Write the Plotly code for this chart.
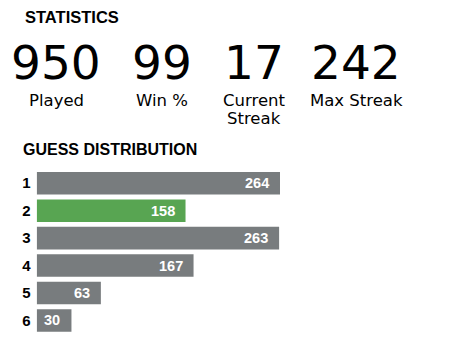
import plotly.graph_objects as go

# ---- data ----
stat_values = ["950", "99", "17", "242"]
stat_labels = [["Played"], ["Win %"], ["Current", "Streak"], ["Max Streak"]]
guesses = ["1", "2", "3", "4", "5", "6"]
counts = [264, 158, 263, 167, 63, 30]
highlight_guess = "2"

# ---- style ----
W, H = 454, 359
OFF = 8  # page body margin of the browser
GRAY = "#787c7e"
GREEN = "#58a552"
PAD = 9  # bar end padding (data units), like the CSS padding of the original

def px(x):
    return (x - OFF) / W

def py(y):
    return 1 - (y - OFF) / H

colors = [GREEN if g == highlight_guess else GRAY for g in guesses]

fig = go.Figure()
fig.add_trace(go.Bar(
    y=guesses,
    x=[c + PAD for c in counts],
    base=-PAD,
    orientation="h",
    marker=dict(color=colors, line=dict(width=0)),
    hoverinfo="skip",
))

annotations = []
# value labels inside bars
for i, c in enumerate(counts):
    annotations.append(dict(
        x=c, y=i, xref="x", yref="y", text=str(c), showarrow=False,
        xanchor="right", yanchor="middle", xshift=-9,
        font=dict(family="Liberation Sans", size=14.5, color="white", weight="bold"),
    ))

# titles
annotations.append(dict(
    x=px(23), y=py(17), xref="paper", yref="paper", text="STATISTICS",
    showarrow=False, xanchor="left", yanchor="middle",
    font=dict(family="Liberation Sans", size=16.5, color="black", weight="bold"),
))
annotations.append(dict(
    x=px(21), y=py(149), xref="paper", yref="paper", text="GUESS DISTRIBUTION",
    showarrow=False, xanchor="left", yanchor="middle",
    font=dict(family="Liberation Sans", size=16, color="black", weight="bold"),
))

# big stats
centers = [56, 162, 254, 356]
for cx, val, lab in zip(centers, stat_values, stat_labels):
    annotations.append(dict(
        x=px(cx), y=py(62.5), xref="paper", yref="paper", text=val,
        showarrow=False, xanchor="center", yanchor="middle",
        font=dict(family="DejaVu Sans", size=47, color="black"),
    ))
    for i, line in enumerate(lab):
        annotations.append(dict(
            x=px(cx), y=py(100 + 18.5 * i), xref="paper", yref="paper", text=line,
            showarrow=False, xanchor="center", yanchor="middle",
            font=dict(family="DejaVu Sans", size=16.5, color="black"),
        ))

fig.update_layout(
    width=W, height=H,
    margin=dict(l=0, r=0, t=0, b=0),
    paper_bgcolor="white", plot_bgcolor="white",
    showlegend=False,
    bargap=0.18,
    annotations=annotations,
    xaxis=dict(domain=[px(36.7), px(280)], range=[-PAD, max(counts)],
               visible=False, fixedrange=True),
    yaxis=dict(domain=[py(334.2), py(169.5)], autorange="reversed",
               type="category", showgrid=False, zeroline=False, showline=False,
               ticks="", ticklabelstandoff=5,
               tickfont=dict(family="Liberation Sans", size=15, color="black", weight="bold"),
               fixedrange=True),
)

fig.write_html("out.html", config={"displayModeBar": False})
